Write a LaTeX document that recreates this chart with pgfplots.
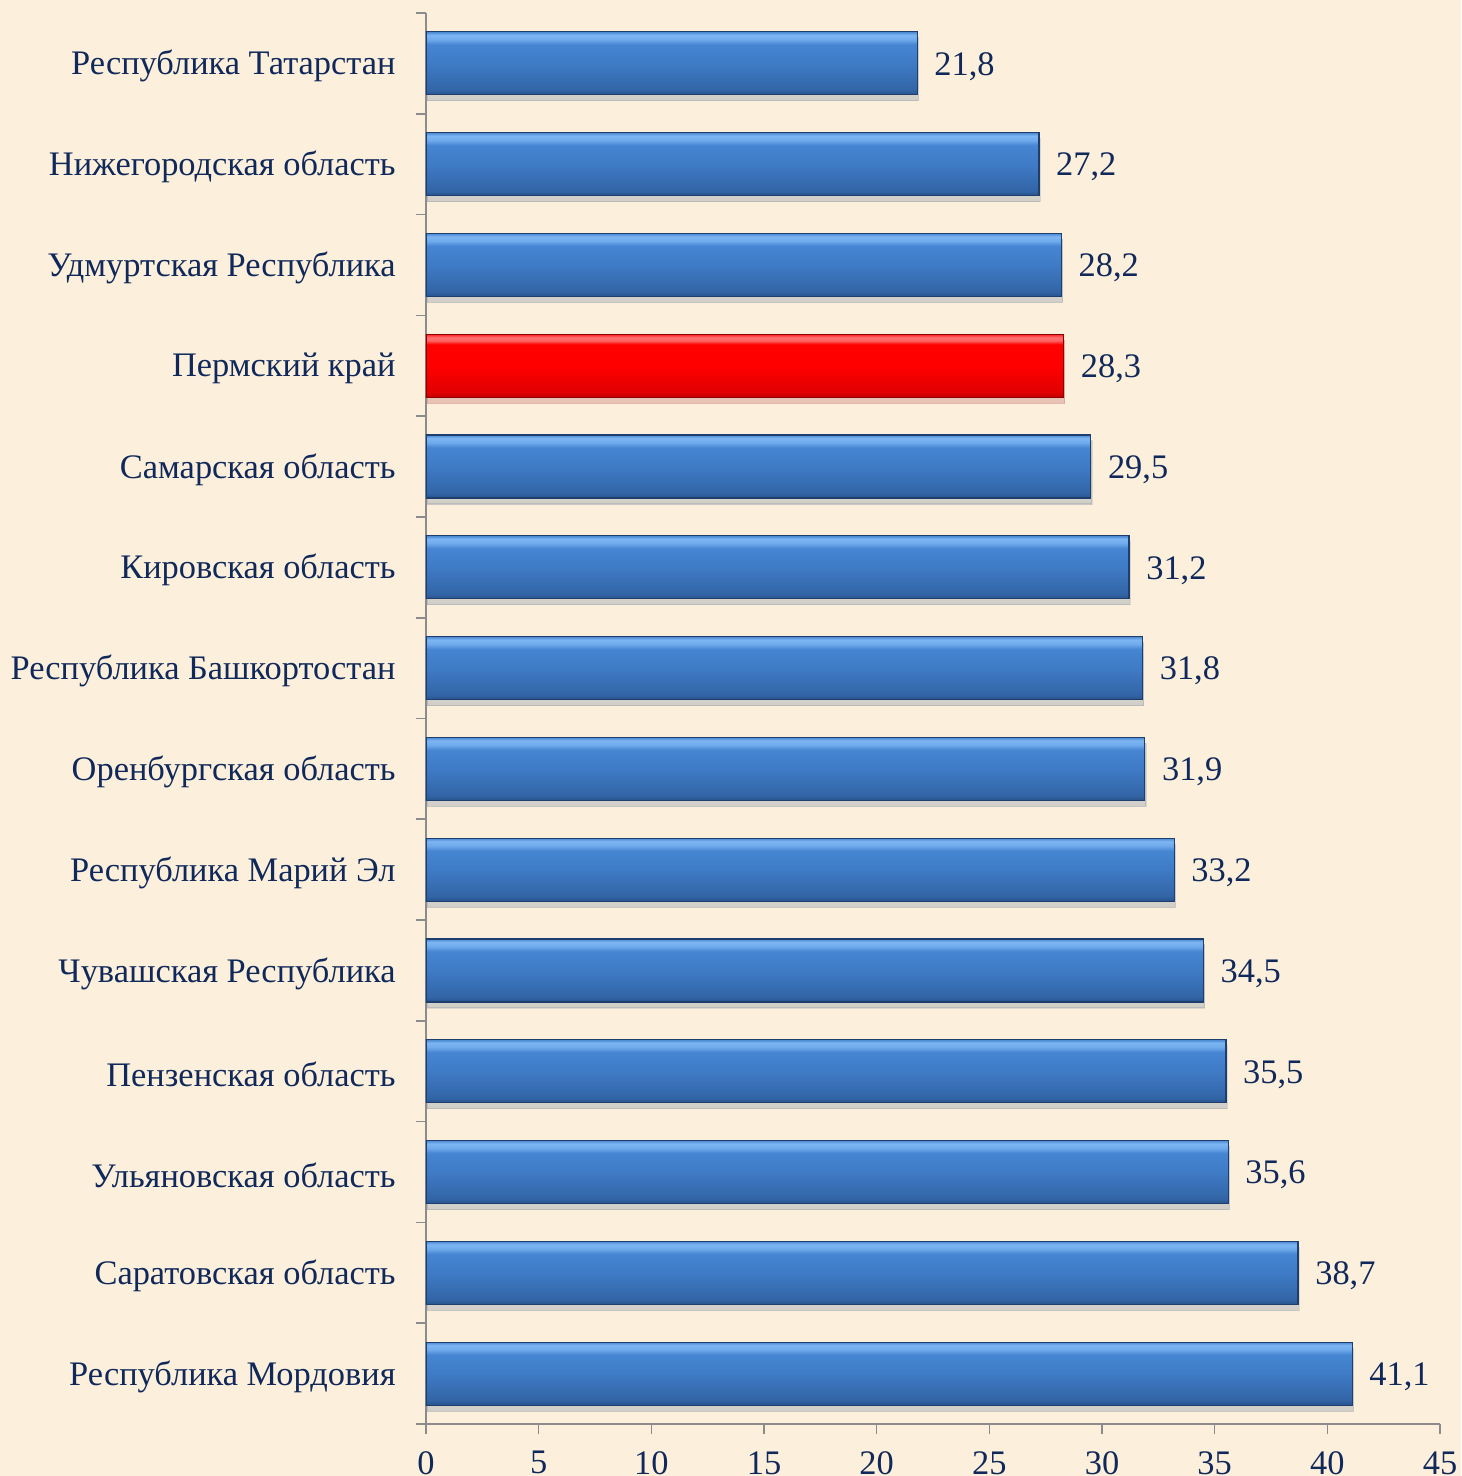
\documentclass[border=0pt]{standalone}
\usepackage{pgfplots}
\pgfplotsset{compat=1.18}
\usepackage{fontspec}
\setmainfont{Liberation Serif}
\usetikzlibrary{shadows}
\definecolor{bg}{HTML}{FCF0DC}
\definecolor{txt}{HTML}{10295A}
\definecolor{baredge}{HTML}{1E3F6E}
\definecolor{axisgray}{HTML}{8C8C8C}
\pgfdeclareverticalshading{bluebar}{100bp}{%
  color(0bp)=(rgb,255:red,40;green,82;blue,140);
  color(25bp)=(rgb,255:red,40;green,82;blue,140);
  color(29bp)=(rgb,255:red,50;green,101;blue,166);
  color(50bp)=(rgb,255:red,63;green,123;blue,198);
  color(65bp)=(rgb,255:red,69;green,133;blue,210);
  color(69bp)=(rgb,255:red,111;green,170;blue,236);
  color(72.5bp)=(rgb,255:red,125;green,182;blue,242);
  color(75bp)=(rgb,255:red,74;green,136;blue,210);
  color(100bp)=(rgb,255:red,74;green,136;blue,210)}
\pgfdeclareverticalshading{redbar}{100bp}{%
  color(0bp)=(rgb,255:red,190;green,0;blue,0);
  color(25bp)=(rgb,255:red,190;green,0;blue,0);
  color(29bp)=(rgb,255:red,225;green,0;blue,0);
  color(50bp)=(rgb,255:red,255;green,0;blue,0);
  color(67bp)=(rgb,255:red,255;green,0;blue,0);
  color(70bp)=(rgb,255:red,255;green,100;blue,100);
  color(72.5bp)=(rgb,255:red,255;green,110;blue,110);
  color(75bp)=(rgb,255:red,255;green,30;blue,30);
  color(100bp)=(rgb,255:red,255;green,30;blue,30)}
\pgfplotsset{
  bluebar/.style={draw=baredge, line width=0.6pt, /tikz/shade, /tikz/shading=bluebar,
    /tikz/drop shadow={shadow xshift=0.6pt, shadow yshift=-3pt, opacity=0.13}},
  redbar/.style={draw=red!55!black, line width=0.6pt, /tikz/shade, /tikz/shading=redbar,
    /tikz/drop shadow={shadow xshift=0.6pt, shadow yshift=-3pt, opacity=0.13}},
}
\begin{document}
\begin{tikzpicture}
\fill[bg] (-213pt,-26pt) rectangle (517.5pt,712pt);
\useasboundingbox (-213pt,-26pt) rectangle (517.5pt,712pt);
\begin{axis}[
  at={(0,0)}, anchor=south west,
  scale only axis, width=507pt, height=705.5pt,
  xbar, bar width=31.5pt, bar shift=0pt,
  xmin=0, xmax=45, ymin=-0.5, ymax=13.5, y dir=reverse,
  axis x line*=bottom, axis y line*=left,
  axis line style={axisgray, line width=0.8pt},
  xtick={0,5,...,45},
  ytick={0,...,13},
  yticklabels={Республика Татарстан, Нижегородская область, Удмуртская Республика, Пермский край, Самарская область, Кировская область, Республика Башкортостан, Оренбургская область, Республика Марий Эл, Чувашская Республика, Пензенская область, Ульяновская область, Саратовская область, Республика Мордовия},
  minor ytick={-0.5,0.5,...,13.5},
  major y tick style={draw=none},
  minor y tick style={axisgray, line width=0.8pt},
  minor tick length=5pt,
  x tick style={axisgray, line width=0.8pt},
  major tick length=5pt,
  tick align=outside,
  yticklabel style={inner sep=0pt, xshift=-10pt, yshift=-1.5pt, font=\fontsize{17.2}{20}\selectfont, text=txt},
  xticklabel style={inner sep=0pt, yshift=-8.5pt, font=\fontsize{17.2}{20}\selectfont, text=txt},
  /pgf/number format/assume math mode=true,
  nodes near coords,
  nodes near coords style={font=\fontsize{17.2}{20}\selectfont, text=txt, anchor=west, xshift=5pt, yshift=-1.5pt,
    /pgf/number format/.cd, fixed, fixed zerofill, precision=1, use comma},
]
\addplot[bluebar] coordinates {(21.8,0)};
\addplot[bluebar] coordinates {(27.2,1)};
\addplot[bluebar] coordinates {(28.2,2)};
\addplot[redbar] coordinates {(28.3,3)};
\addplot[bluebar] coordinates {(29.5,4)};
\addplot[bluebar] coordinates {(31.2,5)};
\addplot[bluebar] coordinates {(31.8,6)};
\addplot[bluebar] coordinates {(31.9,7)};
\addplot[bluebar] coordinates {(33.2,8)};
\addplot[bluebar] coordinates {(34.5,9)};
\addplot[bluebar] coordinates {(35.5,10)};
\addplot[bluebar] coordinates {(35.6,11)};
\addplot[bluebar] coordinates {(38.7,12)};
\addplot[bluebar] coordinates {(41.1,13)};
\end{axis}
\end{tikzpicture}
\end{document}
